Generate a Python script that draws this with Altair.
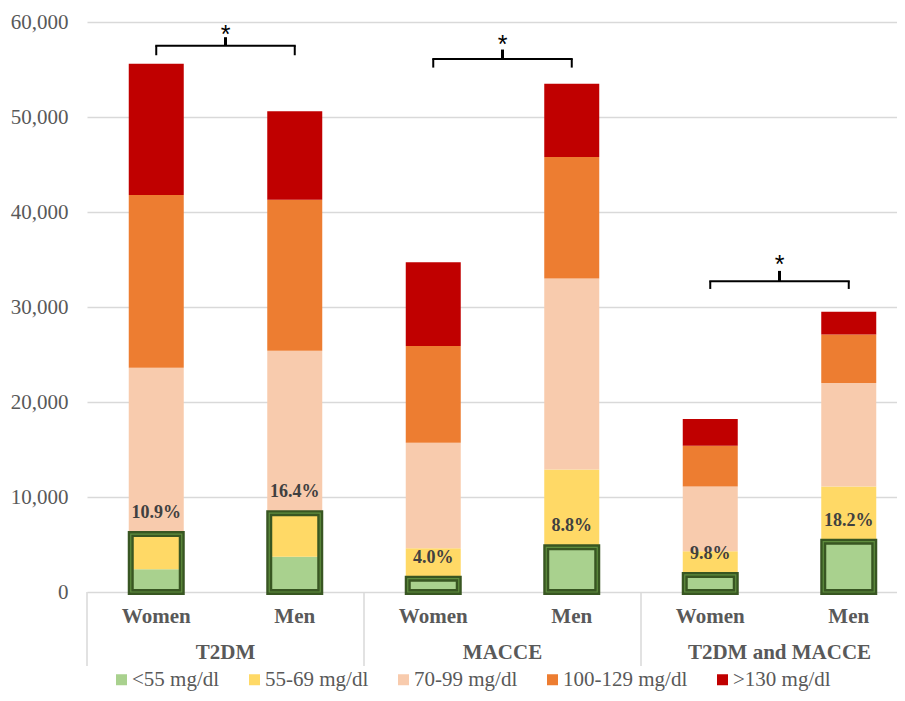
import altair as alt
import pandas as pd

# ---- data ----
groups = ["T2DM", "MACCE", "T2DM and MACCE"]
sexes = ["Women", "Men"]
levels = ["<55 mg/dl", "55-69 mg/dl", "70-99 mg/dl", "100-129 mg/dl", ">130 mg/dl"]
colors = ["#A9D18E", "#FFD966", "#F8CBAD", "#ED7D31", "#C00000"]

# bars in order: T2DM W, T2DM M, MACCE W, MACCE M, T2DM&MACCE W, T2DM&MACCE M
lt55 = [2400, 3700, 1400, 4700, 1800, 5300]
r55_69 = [3700, 4600, 3200, 8200, 2500, 5800]
r70_99 = [17500, 17100, 11100, 20100, 6800, 10900]
r100_129 = [18200, 15900, 10200, 12800, 4300, 5100]
gt130 = [13800, 9300, 8800, 7700, 2800, 2400]

boxed_levels = [2, 2, 1, 1, 1, 1]
pct_labels = ["10.9%", "16.4%", "4.0%", "8.8%", "9.8%", "18.2%"]

bracket_line = [57500, 56100, 32700]
bracket_leg = [56500, 55200, 31900]
bracket_tick = [58400, 57100, 33800]
star_y = [59300, 58200, 35100]

y_ticks = [0, 10000, 20000, 30000, 40000, 50000, 60000]

# ---- tables ----
series = [lt55, r55_69, r70_99, r100_129, gt130]
n_bars = len(groups) * len(sexes)
rows = []
for li, (lvl, vals) in enumerate(zip(levels, series)):
    for i in range(n_bars):
        rows.append({"pos": i + 0.5, "level": lvl, "lvl": li, "value": vals[i]})
seg = pd.DataFrame(rows)

box = pd.DataFrame({
    "pos": [i + 0.5 for i in range(n_bars)],
    "top": [sum(series[k][i] for k in range(boxed_levels[i])) for i in range(n_bars)],
    "label": pct_labels,
})

cats = pd.DataFrame({
    "pos": [i + 0.5 for i in range(n_bars)],
    "sex": [sexes[i % 2] for i in range(n_bars)],
})
grp = pd.DataFrame({"pos": [2 * g + 1 for g in range(len(groups))], "group": groups})
seps = pd.DataFrame({"x": [2 * g for g in range(len(groups))]})

br = pd.DataFrame({
    "left": [2 * g + 0.5 for g in range(len(groups))],
    "right": [2 * g + 1.5 for g in range(len(groups))],
    "mid": [2 * g + 1 for g in range(len(groups))],
    "line": bracket_line,
    "leg": bracket_leg,
    "tick": bracket_tick,
    "star": star_y,
})

W, H = 810, 570
xscale = alt.Scale(domain=[0, W / 138.5], nice=False, zero=False, padding=0)
yscale = alt.Scale(domain=[0, 60000], nice=False)
SERIF = "Liberation Serif"
GRAY = "#595959"

X = lambda f: alt.X(f, type="quantitative", scale=xscale, axis=None)

bars = alt.Chart(seg).mark_bar(size=55).encode(
    x=X("pos"),
    y=alt.Y("value:Q", stack="zero", scale=yscale,
            axis=alt.Axis(values=y_ticks, format=",d", title=None, domain=False, ticks=False,
                          labelPadding=19, labelFont=SERIF, labelFontSize=21, labelColor=GRAY,
                          gridColor="#d9d9d9", gridWidth=1.5)),
    color=alt.Color("level:N", scale=alt.Scale(domain=levels, range=colors),
                    legend=alt.Legend(orient="none", legendX=24, legendY=647, direction="horizontal",
                                      title=None, symbolType="square", symbolSize=121,
                                      symbolStrokeWidth=0, labelFont=SERIF, labelFontSize=21,
                                      labelColor=GRAY, columnPadding=24, labelOffset=0, padding=0)),
    order=alt.Order("lvl:Q", sort="ascending"),
)

box_dark = alt.Chart(box).mark_bar(size=51, fillOpacity=0, stroke="#385622", strokeWidth=6).encode(
    x=X("pos"), y=alt.Y("top:Q", scale=yscale))
box_light = alt.Chart(box).mark_bar(size=51, fillOpacity=0, stroke="#5f8d3e", strokeWidth=1.2).encode(
    x=X("pos"), y=alt.Y("top:Q", scale=yscale))
pct = alt.Chart(box).mark_text(font=SERIF, fontSize=18, fontWeight="bold", color="#404040",
                               baseline="middle", dy=-21).encode(
    x=X("pos"), y=alt.Y("top:Q", scale=yscale), text="label:N")

sep_rules = alt.Chart(seps).mark_rule(color="#d9d9d9", strokeWidth=1.5).encode(
    x=X("x"), y=alt.value(H), y2=alt.value(H + 74))
cat_text = alt.Chart(cats).mark_text(font=SERIF, fontSize=21, fontWeight="bold", color=GRAY,
                                     baseline="middle").encode(
    x=X("pos"), y=alt.value(595), text="sex:N")
grp_text = alt.Chart(grp).mark_text(font=SERIF, fontSize=21, fontWeight="bold", color=GRAY,
                                    baseline="middle").encode(
    x=X("pos"), y=alt.value(631), text="group:N")

bl = alt.Chart(br)
b_h = bl.mark_rule(color="black", strokeWidth=2, strokeCap="square").encode(
    x=X("left"), x2="right:Q", y=alt.Y("line:Q", scale=yscale))
b_l = bl.mark_rule(color="black", strokeWidth=2).encode(
    x=X("left"), y=alt.Y("leg:Q", scale=yscale), y2="line:Q")
b_r = bl.mark_rule(color="black", strokeWidth=2).encode(
    x=X("right"), y=alt.Y("leg:Q", scale=yscale), y2="line:Q")
b_t = bl.mark_rule(color="black", strokeWidth=3).encode(
    x=X("mid"), y=alt.Y("line:Q", scale=yscale), y2="tick:Q")
b_s = bl.mark_text(text="*", font="Liberation Sans", fontSize=25, color="black",
                   baseline="alphabetic", dy=14).encode(
    x=X("mid"), y=alt.Y("star:Q", scale=yscale))

chart = alt.layer(
    bars, box_dark, box_light, pct, sep_rules, cat_text, grp_text, b_h, b_l, b_r, b_t, b_s
).properties(
    width=W, height=H,
    autosize=alt.AutoSizeParams(type="none"),
    padding={"left": 79, "top": 14, "right": 0, "bottom": 100},
    background="white",
).configure_view(stroke=None)

chart.save("out.html", embed_options={"renderer": "svg", "actions": False})
